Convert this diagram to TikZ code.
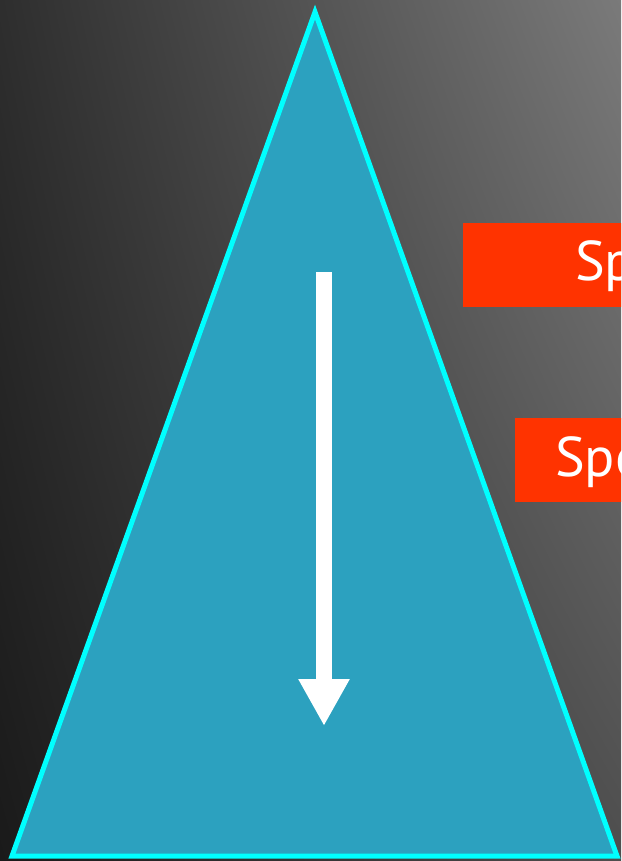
\documentclass[tikz,border=0pt]{standalone}
\usepackage{fontspec}
\setsansfont{PT Sans}
\usetikzlibrary{arrows.meta, positioning}
\definecolor{cteal}{HTML}{2CA1BF}
\definecolor{ccyan}{HTML}{00FFFF}
\definecolor{cred}{HTML}{FF3300}
% backdrop: dark at the left, light at the top right
\pgfdeclarefunctionalshading{backdrop}{\pgfpointorigin}{\pgfpoint{100bp}{100bp}}{}{
  25 sub 50 div exch 25 sub 50 div
  2 copy mul 24 mul
  exch 52 mul add
  exch 20 mul add
  26 add 255 div
  dup dup
}
\tikzset{
  every picture/.style={font=\sffamily},
  tag/.style={fill=cred, inner sep=0pt, minimum height=84pt, minimum width=260pt, anchor=north west},
  tagtext/.style={text=white, font=\sffamily\fontsize{56}{60}\selectfont, inner sep=0pt, anchor=base west},
  cone/.style={fill=cteal, draw=ccyan, line width=5pt, line join=miter},
  flow/.style={draw=white, line width=16pt, -{Triangle[width=48pt, length=47pt]}},
}

\begin{document}
\begin{tikzpicture}[x=1pt, y=-1pt]
  \useasboundingbox (0,0) rectangle (621,861);
  \clip (0,0) rectangle (621,861);
  \shade[shading=backdrop] (0,0) rectangle (621,861);
  % the cone
  \coordinate (apex) at (315,12);
  \coordinate (bl) at (12,856);
  \coordinate (br) at (617,856);
  \draw[cone] (apex) -- (bl) -- (br) -- cycle;
  % arrow down the cone
  \coordinate (top) at (324,272);
  \coordinate (tip) at (324,726);
  \draw[flow] (top) -- (tip);
  % labels on the right
  \node[tag] (b1) at (463,223) {};
  \node[tagtext] (t1) at ([xshift=112pt, yshift=-15pt]b1.west) {Sp};
  \node[tag] (b2) at (515,418) {};
  \node[tagtext] (t2) at ([xshift=40pt, yshift=-16pt]b2.west) {Spe};
\end{tikzpicture}
\end{document}
